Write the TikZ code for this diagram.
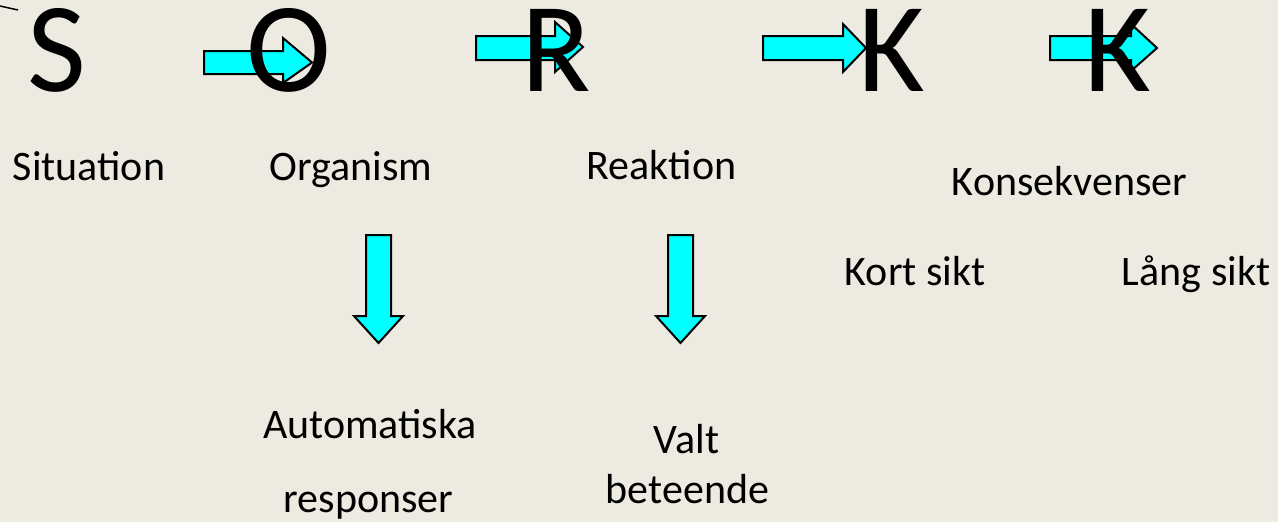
\documentclass[tikz,border=0pt]{standalone}
\usepackage{fontspec}
\setmainfont{Carlito}
\definecolor{bgc}{HTML}{EDEBE1}
\definecolor{arrowfill}{HTML}{00FFFF}
\tikzset{
  big/.style={font=\fontsize{128}{150}\selectfont, inner sep=0pt, anchor=base, text height=82pt, text depth=0pt},
  lbl/.style={font=\fontsize{42}{50}\selectfont, inner sep=0pt, anchor=base},
  blockarrow/.style={draw=black, fill=arrowfill, line width=2pt, line join=miter}
}
\begin{document}
\begin{tikzpicture}[x=1pt,y=-1pt]
\fill[bgc] (0,0) rectangle (1278,522);
\useasboundingbox (0,0) rectangle (1278,522);
% small stray line at top-left
\draw[line width=1.5pt] (0,6) -- (18,10);
% right block arrows
\draw[blockarrow] (204,51) -- (283,51) -- (283,38) -- (312,62.5) -- (283,83) -- (283,74) -- (204,74) -- cycle;
\draw[blockarrow] (476,36) -- (555,36) -- (555,22) -- (583,47) -- (555,72) -- (555,60) -- (476,60) -- cycle;
\draw[blockarrow] (763,36) -- (843,36) -- (843,24) -- (866,48) -- (843,72) -- (843,60) -- (763,60) -- cycle;
\draw[blockarrow] (1050,36) -- (1131,36) -- (1131,24) -- (1157,48) -- (1131,71) -- (1131,60) -- (1050,60) -- cycle;
% down block arrows
\draw[blockarrow] (366,235) -- (391,235) -- (391,316) -- (403,316) -- (378.5,343) -- (354,316) -- (366,316) -- cycle;
\draw[blockarrow] (668,235) -- (693,235) -- (693,316) -- (705,316) -- (680.5,343) -- (656,316) -- (668,316) -- cycle;
% big letters
\node[big] (S) at (57,91.5) {S};
\node[big] (O) at (289,91.5) {O};
\node[big] (R) at (556,91.5) {R};
\node[big] (K1) at (892,91.5) {K};
\node[big] (K2) at (1118,91.5) {K};
% labels
\node[lbl] (situation) at (89,180) {Situation};
\node[lbl] (organism) at (351,180) {Organism};
\node[lbl] (reaktion) at (661.5,179) {Reaktion};
\node[lbl] (konsekvenser) at (1069.5,195) {Konsekvenser};
\node[lbl] (kort) at (915,285) {Kort sikt};
\node[lbl] (lang) at (1196,285) {Lång sikt};
\node[lbl] (automatiska) at (370,438) {Automatiska};
\node[lbl] (responser) at (368.5,512) {responser};
\node[lbl] (valt) at (686.5,453) {Valt};
\node[lbl] (beteende) at (687.5,503) {beteende};
\end{tikzpicture}
\end{document}
